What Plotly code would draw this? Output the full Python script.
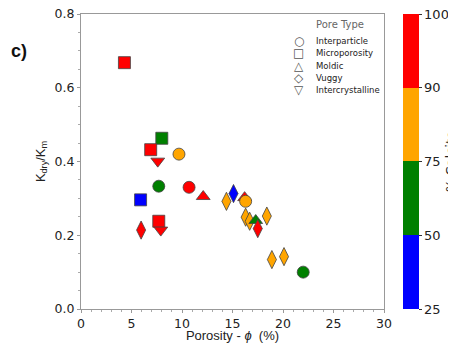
import plotly.graph_objects as go

# ---- data ----
porosity = [4.3, 8.0, 6.9, 9.7, 7.6, 7.7, 10.7, 12.1, 5.9, 7.7, 5.95, 7.9,
            14.4, 15.1, 16.2, 16.3, 16.3, 16.7, 17.3, 17.5, 18.4, 18.9, 20.1, 22.0]
k_ratio = [0.668, 0.463, 0.432, 0.420, 0.401, 0.333, 0.330, 0.305, 0.296, 0.238, 0.214, 0.214,
           0.292, 0.313, 0.302, 0.292, 0.249, 0.238, 0.240, 0.218, 0.252, 0.134, 0.142, 0.100]
pore_type = ["Microporosity", "Microporosity", "Microporosity", "Interparticle", "Intercrystalline",
             "Interparticle", "Interparticle", "Moldic", "Microporosity", "Microporosity", "Vuggy",
             "Intercrystalline", "Vuggy", "Vuggy", "Moldic", "Interparticle", "Vuggy", "Vuggy",
             "Moldic", "Vuggy", "Vuggy", "Vuggy", "Vuggy", "Interparticle"]
calcite_bin = ["90-100", "50-75", "90-100", "75-90", "90-100", "50-75", "90-100", "90-100",
               "25-50", "90-100", "90-100", "90-100", "75-90", "25-50", "90-100", "75-90",
               "75-90", "75-90", "50-75", "90-100", "75-90", "75-90", "75-90", "50-75"]

pore_types = ["Interparticle", "Microporosity", "Moldic", "Vuggy", "Intercrystalline"]
bin_labels = ["25-50", "50-75", "75-90", "90-100"]
cbar_ticks = ["25", "50", "75", "90", "100"]

symbol_map = {"Interparticle": "circle", "Microporosity": "square", "Moldic": "triangle-up",
              "Vuggy": "diamond-tall", "Intercrystalline": "triangle-down"}
glyph_map = {"Interparticle": "○", "Microporosity": "□", "Moldic": "△",
             "Vuggy": "◇", "Intercrystalline": "▽"}
bin_colors = {"25-50": "#0000ff", "50-75": "#008000", "75-90": "#ffa500", "90-100": "#ff0000"}
size_map = {"Interparticle": 12, "Microporosity": 12, "Moldic": 12, "Vuggy": 13, "Intercrystalline": 12}

fig = go.Figure()

fig.add_trace(go.Scatter(
    x=porosity, y=k_ratio, mode="markers", showlegend=False,
    marker=dict(symbol=[symbol_map[p] for p in pore_type],
                color=[bin_colors[b] for b in calcite_bin],
                size=[size_map[p] for p in pore_type], opacity=1,
                line=dict(color="#444444", width=0.8)),
))

# discrete colour bar (equal-height bands)
n = len(bin_labels)
cscale = []
for i, b in enumerate(bin_labels):
    cscale.append([i / n, bin_colors[b]])
    cscale.append([(i + 1) / n, bin_colors[b]])
fig.add_trace(go.Scatter(
    x=[None], y=[None], mode="markers", showlegend=False, hoverinfo="skip",
    marker=dict(color=[0], cmin=0, cmax=n, colorscale=cscale, showscale=True,
                colorbar=dict(x=1.063, xanchor="left", xpad=0, ypad=0, y=0.5, yanchor="middle",
                              len=1.0, lenmode="fraction", thickness=16, outlinewidth=0,
                              tickmode="array", tickvals=list(range(n + 1)), ticktext=cbar_ticks,
                              ticks="outside", ticklen=3, tickcolor="#333",
                              ticklabeloverflow="allow",
                              tickfont=dict(family="DejaVu Sans", size=13, color="#222"),
                              title=dict(text="% Calcite", side="right",
                                         font=dict(family="DejaVu Sans", size=13, color="#222")))),
))

axis_common = dict(showgrid=False, zeroline=False, showline=True, linecolor="#999999", linewidth=1,
                   mirror=True, ticks="outside", ticklen=3, tickcolor="#999999",
                   ticklabeloverflow="allow",
                   tickfont=dict(family="DejaVu Sans", size=12.5, color="#222"))
fig.update_xaxes(range=[0, 30], tickvals=[0, 5, 10, 15, 20, 25, 30],
                 minor=dict(dtick=1, ticks="outside", ticklen=2, tickcolor="#aaaaaa"),
                 title=dict(text="Porosity - <i>ϕ</i>  (%)", standoff=1,
                            font=dict(family="Liberation Sans", size=13, color="#222")),
                 **axis_common)
fig.update_yaxes(range=[0, 0.8], tickvals=[0, 0.2, 0.4, 0.6, 0.8], tickformat=".1f",
                 minor=dict(dtick=0.05, ticks="outside", ticklen=2, tickcolor="#aaaaaa"),
                 title=dict(text="K<sub>dry</sub>/K<sub>m</sub>", standoff=6,
                            font=dict(family="Liberation Sans", size=13, color="#222")),
                 **axis_common)

annotations = []
annotations.append(dict(text="<b>c)</b>", xref="paper", yref="paper",
                        x=-0.237, y=0.875, xanchor="left", yanchor="middle", showarrow=False,
                        font=dict(family="Liberation Sans", size=18, color="#111")))
annotations.append(dict(text="Pore Type", xref="paper", yref="paper",
                        x=0.77, y=0.965, xanchor="left", yanchor="middle", showarrow=False,
                        font=dict(family="DejaVu Sans", size=10, color="#666")))
for i, p in enumerate(pore_types):
    yy = 0.908 - i * 0.0415
    annotations.append(dict(text=glyph_map[p], xref="paper", yref="paper",
                            x=0.719, y=yy, xanchor="center", yanchor="middle", showarrow=False,
                            font=dict(family="DejaVu Sans", size=12, color="#555")))
    annotations.append(dict(text=p, xref="paper", yref="paper",
                            x=0.77, y=yy, xanchor="left", yanchor="middle", showarrow=False,
                            font=dict(family="DejaVu Sans", size=8.5, color="#222")))

# the page adds an 8px body margin, so the figure is sized to fit the 456x343 window
fig.update_layout(width=448, height=335,
                  margin=dict(l=73, r=72, t=6, b=34, autoexpand=False),
                  plot_bgcolor="white", paper_bgcolor="white", annotations=annotations)

fig.write_html("out.html")
